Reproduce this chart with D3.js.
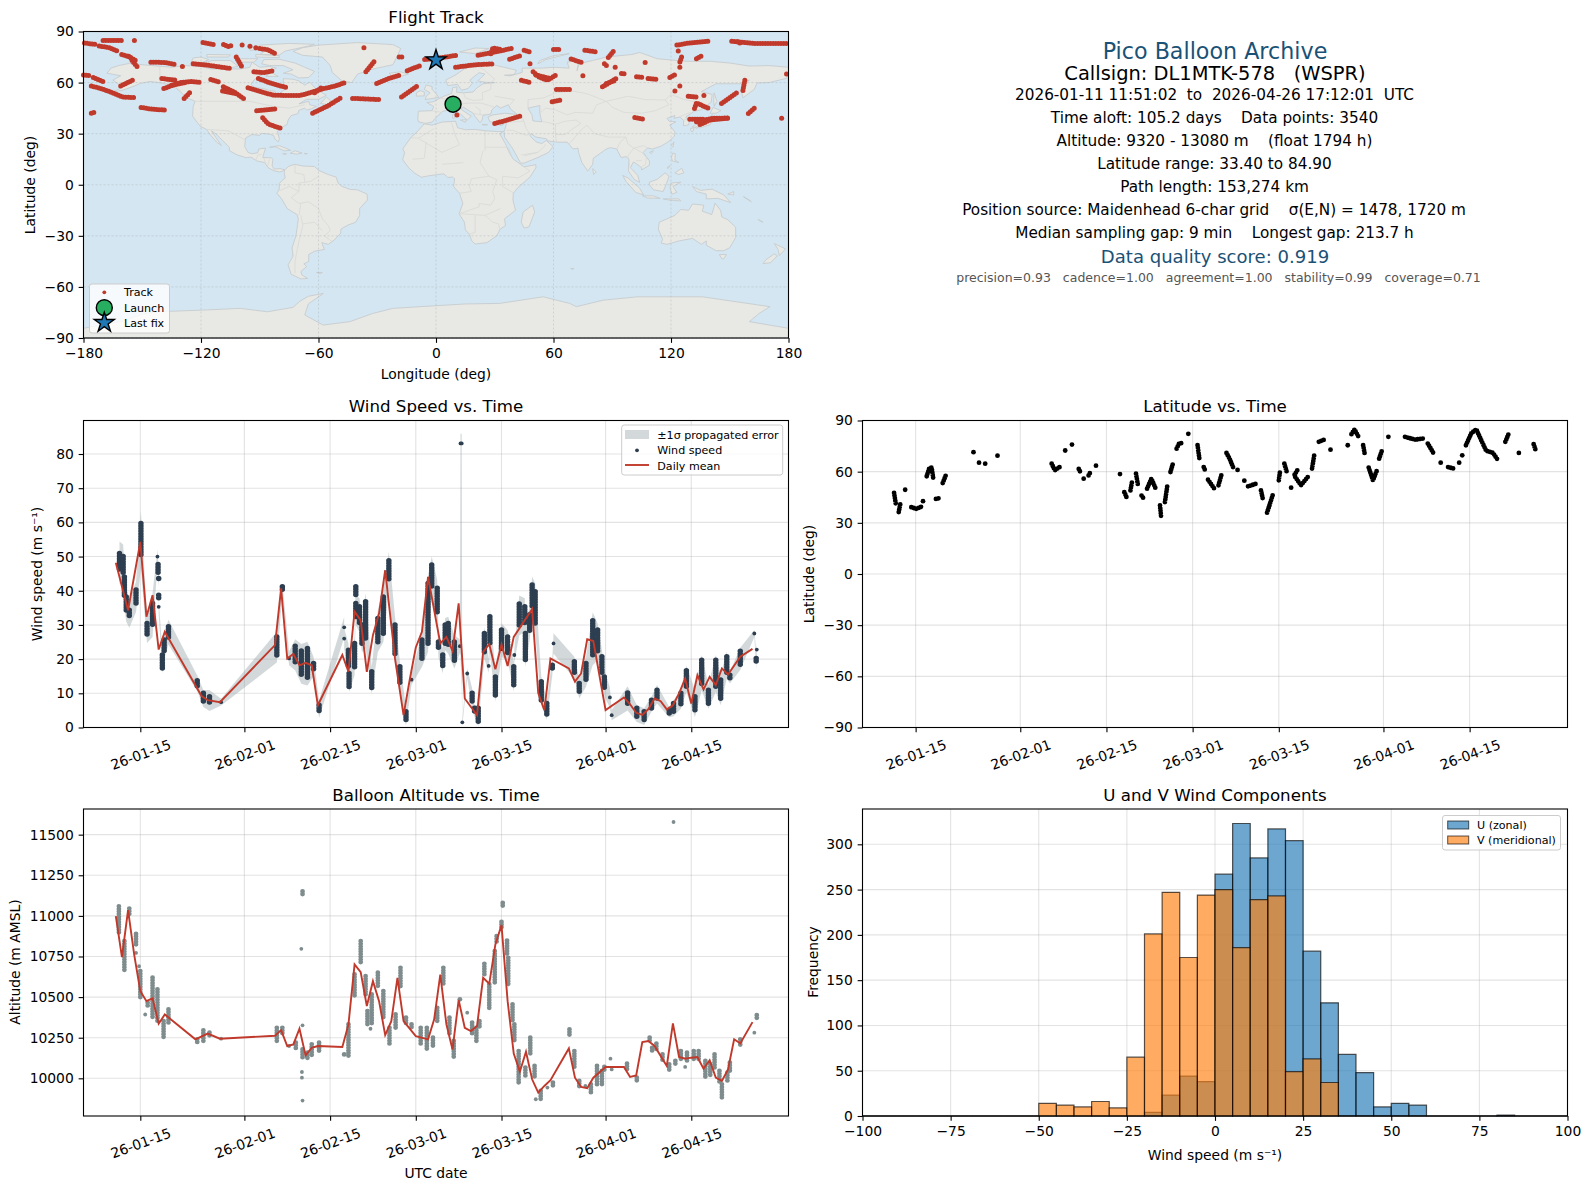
<!DOCTYPE html>
<html>
<head>
<meta charset="utf-8">
<script src="https://cdn.jsdelivr.net/npm/d3@7"></script>
<style>
  html, body { margin: 0; background: #fff; }
  svg { display: block; font-family: "DejaVu Sans", sans-serif; }
  .axis text { font-size: 13.89px; fill: #000; font-family: "DejaVu Sans", sans-serif; }
  .axis line, .axis path { stroke: #000; stroke-width: 1.1; }
  .grid line { stroke: #b0b0b0; stroke-opacity: 0.35; stroke-width: 1.1; }
  .title { font-size: 16.67px; text-anchor: middle; }
  .label { font-size: 13.89px; text-anchor: middle; }
  .legend text { font-size: 11.1px; dominant-baseline: central; }
</style>
</head>
<body>
<svg width="1590" height="1189"></svg>
<script>
// tick labels
const lonTicks = [-180, -120, -60, 0, 60, 120, 180];
const latTicks = [-90, -60, -30, 0, 30, 60, 90];
const timeTicks = ["2026-01-15", "2026-02-01", "2026-02-15", "2026-03-01", "2026-03-15", "2026-04-01", "2026-04-15"];
const windTicks = [0, 10, 20, 30, 40, 50, 60, 70, 80];
const altTicks = [10000, 10250, 10500, 10750, 11000, 11250, 11500];
const histXTicks = [-100, -75, -50, -25, 0, 25, 50, 75, 100];
const histYTicks = [0, 50, 100, 150, 200, 250, 300];

// all time values are day of 2026, Jan 1 = 1
const timeRange = [5.72, 120.88];
const latTimeRange = [6.37, 120.9];

const launch = [8.7, 47.3];
const lastFix = [0, 73.2];

// track fixes, [lon, lat], one list per visible run
const trackRuns = [
  [[-179.5, 83.2], [-174, 82.5]],
  [[-172, 81.5], [-167, 80.5], [-162, 78.2]],
  [[-160.5, 76.5], [-156, 75], [-155, 72.5], [-152, 68.5]],
  [[-157, 75.5], [-153.5, 73]],
  [[-170, 84.7], [-160, 84.7]],
  [[-154, 84.7]],
  [[-180, 64.4], [-177, 64.2]],
  [[-175, 63], [-170, 60.5]],
  [[-176, 58], [-171, 56.5], [-164, 53.5], [-160, 51.5], [-153.6, 51.2]],
  [[-176, 42], [-173.5, 43]],
  [[-161, 58], [-155, 61.4]],
  [[-150.6, 45.4], [-145, 44.4], [-137.5, 43.8]],
  [[-145.6, 72], [-138, 71.8], [-133, 70.5]],
  [[-129.5, 69.5]],
  [[-140, 62.4], [-133, 61.4]],
  [[-139, 56.5], [-130.7, 60], [-125, 60.6], [-120.5, 60.2]],
  [[-135, 58.5], [-128, 60]],
  [[-128.6, 50.7], [-125, 55]],
  [[-124, 71], [-115, 70], [-105, 68.3]],
  [[-119, 83.5], [-113.7, 82.4]],
  [[-108.5, 82.4], [-106, 81.2], [-104, 82]],
  [[-99, 82]], [[-95, 81.4]], [[-92, 80.4]],
  [[-90, 80], [-86, 79.3], [-82, 77]],
  [[-102, 75], [-99, 69]],
  [[-93, 66.3], [-88, 65.8], [-83, 67]],
  [[-90.7, 62.4], [-84, 59.5], [-76, 57]],
  [[-115, 61.8], [-110, 60]],
  [[-108.6, 57.5], [-103, 54.5], [-97.5, 50]],
  [[-109, 55], [-102, 53.5]],
  [[-96, 57], [-89, 54.5], [-83, 52.6], [-76, 52.4], [-69.5, 52.4], [-63, 54.5], [-57.5, 56.5], [-52, 57.8], [-46.5, 60]],
  [[-62, 54], [-58, 57.5]],
  [[-91.6, 43.4], [-82, 44.6]],
  [[-88.5, 39.3], [-85.6, 35.6], [-79, 33]],
  [[-63, 42], [-55, 46.5], [-48.2, 51.3]],
  [[-42.6, 50.7], [-36, 50.4], [-29, 50]],
  [[-35.8, 66.3], [-31.2, 73]],
  [[-36.8, 80.4]],
  [[-30.3, 59.5], [-24, 62.5], [-18.4, 64.4]],
  [[-14.7, 67], [-8, 70]],
  [[-18.8, 75], [-16.7, 75]],
  [[-17.6, 51.6], [-9.6, 58]],
  [[-5.8, 73.6], [2, 74.5], [10.4, 76]],
  [[21.5, 76], [30, 78], [38.5, 80]],
  [[28, 77], [29, 80.3], [33, 79.5]],
  [[10, 69], [20, 70.5], [29, 71]],
  [[37.6, 73.7], [43.6, 76]],
  [[45, 79], [48, 78]],
  [[48, 71]],
  [[60, 79.4], [63, 79.4]],
  [[76, 79], [82, 78]],
  [[69, 73.8], [74.6, 71.8]],
  [[88, 74.7], [91, 79]],
  [[86, 71], [87.4, 69.6]],
  [[91.5, 69]],
  [[106.8, 71.8]],
  [[123, 82], [128, 83], [139, 84.3]],
  [[123.7, 78.6]],
  [[125.4, 75], [124.5, 72]], [[124.5, 69]],
  [[133, 74], [136, 76]],
  [[151, 84.3], [162, 83], [180, 83]],
  [[154, 84], [156, 82.6]],
  [[119.4, 63], [122.8, 65]],
  [[122, 55]], [[124.5, 58]],
  [[49.6, 66.3], [53, 63], [57, 61.4], [62, 65]],
  [[51, 64.5], [58, 62.5]],
  [[43.6, 61.4], [48, 60]],
  [[61.5, 56], [68.7, 56]],
  [[59.3, 48.7], [63.2, 49.7]],
  [[30, 36], [37, 38.2], [43.6, 40.5]],
  [[10.7, 41]],
  [[75, 64]],
  [[85, 57.5], [92, 62.4]],
  [[87, 59.5], [91, 61]],
  [[94.7, 65.3], [97.3, 65]],
  [[102.4, 63.4], [105.5, 63]],
  [[108.3, 62.4], [113, 61.8]],
  [[101.5, 39.5], [106.6, 38.3]],
  [[128.8, 52], [134, 51.3]],
  [[136.8, 52.4]],
  [[132, 44.8], [133, 48], [139, 45]],
  [[129.6, 38.5], [136.5, 38.5]],
  [[134.8, 35.4], [140, 38], [149, 39]],
  [[133, 37], [141, 39], [150, 39.2]],
  [[145.8, 47.7], [153.5, 54]],
  [[157.7, 61.4], [156.6, 54.6]],
  [[159.5, 41.9], [163, 45.4]],
  [[176.5, 39]],
  [[179, 65]]
];

// simplified coastlines, [lon, lat]
const landPolygons = [
  // North America
  [[-168,65.5],[-166,68.5],[-162,70],[-156.5,71.3],[-150,70.5],[-141,69.6],[-135,69],[-128,70],[-120,69.5],[-115,68],[-108,68],[-100,68],[-95,69],[-94,72],[-90,69],[-85,69.5],[-81.5,68.5],[-86,66],[-90,64],[-93,61.5],[-94.5,59],[-92.5,57],[-88,56.5],[-85,55.3],[-82.3,55],[-82,52.5],[-79.5,51.3],[-79,54.5],[-76.5,56.5],[-78,58.7],[-78,62.3],[-73,62],[-70,61],[-67,58.5],[-64.5,60.3],[-61.5,56.5],[-56,52.5],[-60,50.2],[-66,50.2],[-70,47.5],[-65,49],[-64.5,47],[-61,46],[-63.5,44.7],[-66,43.8],[-67,45],[-70,43.7],[-70.5,41.7],[-74,40.6],[-75.5,38],[-76,35.5],[-78.5,33.8],[-81,31.5],[-80,27],[-80.5,25.2],[-82,26.5],[-83,29],[-85,29.7],[-89,30.2],[-90,29],[-94,29.5],[-97.2,27.5],[-97.7,22.5],[-96,19],[-94,18.2],[-91,18.8],[-90.5,21],[-87,21.5],[-88,18],[-88.5,16],[-84,15.8],[-83.3,14.9],[-83.7,11],[-82.5,9.2],[-79.5,9.5],[-77.3,8.7],[-78.3,8],[-80,7.5],[-83,8.3],[-85.7,10],[-87.5,13],[-91.5,14],[-94.5,16.2],[-97,15.9],[-101.5,17.5],[-105.5,20],[-105.5,22],[-109,26],[-112.5,30],[-114.7,31.7],[-112,27],[-109.5,23],[-112,25],[-115,29],[-117.2,32.5],[-120.5,34.5],[-122.5,37.5],[-124.3,40.3],[-124,46],[-123,49],[-127,51],[-130.5,54.5],[-134,58],[-140,59.7],[-146,60.7],[-151,59.5],[-154,58],[-160,55.5],[-165,54.5],[-158,58.5],[-162,59],[-165,61.5],[-161,64],[-168,65.5]],
  // Arctic Canada
  [[-80,73.7],[-72,71.5],[-67,69],[-62,66.5],[-65,63],[-70,62.7],[-74,65],[-78,65.5],[-73,67.5],[-78,70],[-85,70],[-89,71],[-88,73.5]],
  [[-117,70],[-105,68.7],[-101,69.5],[-105,73],[-114,73],[-119,71.5]],
  [[-125,72],[-120,71.5],[-116,73.5],[-120,75],[-124,74.5]],
  [[-90,76.5],[-80,76.2],[-77,78.5],[-65,81.5],[-62,82.5],[-75,83],[-90,82],[-92,80],[-88,78]],
  [[-92,75],[-80,74.7],[-80,75.8],[-92,76.5]],
  [[-117,75],[-106,75],[-105,76.3],[-117,76.5]],
  [[-95,79],[-88,79],[-90,81],[-95,80.5]],
  [[-100,72],[-93,72],[-91,74],[-100,74]],
  [[-87,63.7],[-80.5,63.6],[-84,65.9]],
  [[-59,47.7],[-53,46.7],[-52.8,48.5],[-56,51.5]],
  // Caribbean
  [[-85,22],[-80,23],[-74.2,20.2],[-77.5,19.9],[-82,22.3]],
  [[-74.4,18.5],[-72,20],[-68.4,18.6],[-71,18]],
  [[-78.3,18.3],[-76.3,18.2],[-77,17.8]],
  [[-67.2,18.4],[-65.7,18.3],[-66.5,18]],
  // Greenland, Iceland
  [[-73,78.3],[-68,80.5],[-60,82],[-40,83.5],[-22,82.3],[-18,80],[-20,75],[-22,70.5],[-32,68],[-40,65],[-43,60],[-48,61],[-53,66],[-54,70],[-58,75],[-68,76]],
  [[-24,65.5],[-18,66.3],[-14,65],[-19,63.4],[-22.5,64]],
  // Arctic Eurasia
  [[12,78],[20,80.3],[27,80],[20,77]],
  [[52,71],[56,73.5],[68,77],[60,75.8],[53,73]],
  // South America
  [[-77.3,8.7],[-75,11],[-72,12],[-68,11],[-62,10.7],[-60,8.5],[-55,6],[-51,4.5],[-50,1],[-48,-1],[-44,-2.7],[-40,-3],[-35.2,-5.5],[-35,-9],[-39,-14],[-39,-18],[-41,-22],[-45,-23.7],[-48.5,-26],[-48.7,-28.5],[-52,-32.5],[-55,-35],[-58.3,-34],[-57,-38],[-62,-39],[-65,-41],[-65,-45],[-67.5,-46.5],[-66,-48],[-69,-51],[-68.5,-53],[-65.5,-55],[-69,-55.3],[-74,-52.5],[-75.5,-47],[-73,-42],[-73.5,-37],[-71.5,-30],[-70.3,-20],[-71,-17.5],[-76,-14],[-79,-8],[-81.3,-5],[-80,-2.5],[-80,0.7],[-78.5,2.5],[-77,4],[-77.5,7]],
  [[-61,-51.5],[-58,-51.5],[-59,-52.2]],
  // Africa
  [[-6,35.8],[-2,35],[3,36.8],[10,37.3],[11,33.5],[15,32.3],[20,32.5],[25,31.7],[32,31.2],[34.5,31.3],[32.5,30],[35.5,24],[37.5,18.7],[39.5,15],[43.2,12],[45,10.5],[51,11.8],[51,10],[48,4.5],[42,-1.5],[39.5,-5],[39.3,-9],[40.6,-15],[35,-20],[35.5,-24],[32.8,-26],[31,-30],[26,-34],[20,-34.8],[18.3,-33],[17,-29],[15,-26.5],[14.5,-22],[11.8,-17],[13.7,-11],[12,-5],[9,-1],[9.5,3.5],[8.5,4.5],[6,4.3],[4,6.4],[1,6],[-4,5.2],[-7.5,4.4],[-11,6.9],[-14,10],[-17,14.7],[-16,19],[-17,21],[-13,27.5],[-9.7,31]],
  [[49.3,-12],[50.4,-16],[47.5,-24.7],[45,-25.5],[43.5,-22],[44.5,-16]],
  // Eurasia
  [[-9,37],[-9.3,39],[-9,43.2],[-2,43.5],[-1.2,46],[-4.7,48.3],[-1.5,48.7],[1.5,50.5],[4,52],[8,53.7],[8.5,57],[10.7,57.5],[10.5,54.3],[14,54],[19,54.5],[21,57],[24,59.3],[30,60],[25,60.2],[21.3,61],[25,65],[22,65.8],[17.3,61.5],[18.5,59.5],[16.4,56.5],[13,55.5],[11,59],[6,58.2],[5,61.5],[10,64.5],[15,68.5],[20,70],[26,71],[31,70],[41,67.3],[40,64.7],[35,64.3],[38,64],[44,66],[44,68.5],[54,68.5],[60,69],[68,68.5],[67,72],[73,73],[72,67],[73,71],[80,73],[87,75],[100,76.5],[104,77.7],[113,74],[128,72.5],[140,72.5],[150,71.5],[160,69.7],[170,70],[180,69],[180,65],[179,62.5],[170,60],[164,59.8],[162.5,56],[156.7,51],[155.7,56.5],[160,61.5],[155,59.3],[143,59.3],[135.5,54.7],[141,53],[140.5,48.5],[135.5,44],[132,43.2],[127.5,39.8],[129.3,37],[129,35.2],[126.3,34.6],[126.5,37.7],[124.5,39.8],[121.5,39],[122,40.7],[118,39],[119,37.3],[122.5,37],[119.3,35],[122,31],[121.7,28.5],[119,25.5],[115,22.7],[110.5,21],[108,21.6],[105.8,19],[109,14],[109,11.5],[105,8.7],[105,10],[102.5,12.2],[100.8,13.4],[99.3,10],[103,5.5],[104,1.4],[101.3,3],[98.3,8],[98.5,15],[97,16.5],[94.5,16],[92.3,21],[89,21.8],[87,21],[80.3,15.5],[80,12],[77.5,8],[74.5,13],[72.8,19],[72.5,21.5],[70,21],[67,25],[61.5,25],[57,25.8],[56.4,27],[51,28],[48.5,30],[48,28.7],[50.3,26],[51.5,25],[54,24.2],[56.3,26],[59.7,22.5],[57.5,19],[52,16],[45,12.7],[43.2,12.7],[39,21.5],[35,28],[34.8,31.3],[35.8,35],[36,36.8],[30.5,36.5],[27.5,37],[26.5,39.8],[29,41],[35,42],[41.5,41.3],[38,44.5],[37,47],[33,45],[31,46.5],[28.5,44],[28,41.5],[24,40.7],[23.5,38],[22.5,36.5],[19.7,40.5],[19,42],[14,45.5],[12.5,44.5],[18,40.3],[16,38],[12.5,41.5],[9,44.3],[3.5,43.2],[0,39.5],[-2,36.8],[-5.5,36]],
  // Europe islands
  [[-5.5,50],[1.5,51.3],[0,53.5],[-2,56],[-2,57.7],[-5,58.6],[-6,56],[-3,54],[-5,52]],
  [[-10,52],[-6,52.2],[-6,54.5],[-8,55.3],[-10,54]],
  [[12.5,38],[15.5,38.2],[15,36.7]],
  [[8.3,41],[9.7,41],[9.5,39.2],[8.5,39]],
  [[8.7,42.5],[9.5,43],[9.3,41.5]],
  [[23.5,35.5],[26.3,35.2],[24,35]],
  [[32.5,35],[34.5,35.5],[33.5,34.7]],
  // Japan, east Asia
  [[130.8,33.9],[135,33.5],[140,35.3],[141.8,39.5],[141,41.3],[139.8,39.5],[136.5,36.8],[132,35]],
  [[140,42],[141.5,45.4],[145.5,43.5],[143,42]],
  [[130,33],[131.8,33.5],[131.2,31.3],[130.2,31.4]],
  [[132.5,34],[134.5,34.2],[133,33]],
  [[142,54],[143.5,49],[142,46],[141.8,50]],
  [[120.2,23],[121.5,25.2],[121,22]],
  [[109,19],[111,20],[110,18.3]],
  [[80,9.5],[81.8,7.5],[80.5,6]],
  // Maritime southeast Asia
  [[95.3,5.5],[98,4],[104,-2],[106,-6],[102,-4.5],[97,2]],
  [[105.5,-6.5],[111,-6.5],[114.5,-8],[108,-7.8]],
  [[109,1.5],[113,3.2],[117,7],[119,5],[117.8,1],[116,-4],[111,-3],[109,0]],
  [[120,1],[125,1.5],[121,-1],[123,-4.5],[120.5,-5.5],[119.5,-2]],
  [[120.3,16],[120.8,18.5],[122.2,18.3],[122,14.5],[124,13],[120.7,14]],
  [[122,7],[125.5,9.7],[126.5,7],[124,6]],
  [[118,10],[119.5,11.3],[118.5,9.5]],
  [[116,-8.3],[119,-8.3],[124,-8.3],[125,-9.5],[119,-9]],
  [[131,-1],[135,-3.3],[141,-2.6],[147,-6],[150.5,-10.5],[144,-8],[138,-8.3],[138,-5.5],[133,-4]],
  [[149,-5.5],[152,-4],[152,-6]],
  [[157,-7],[161,-10],[160,-9]],
  [[165,-21],[167,-22],[164.5,-20.3]],
  // Australia, New Zealand
  [[114,-22],[113.5,-26],[115.7,-32],[115,-34.3],[118,-35],[124,-33],[131,-31.5],[135.5,-35],[138,-33],[138,-35.5],[143,-38.7],[147,-38.7],[150,-37],[153,-31],[153,-25],[149,-20.5],[146,-19],[145.3,-15],[142.5,-10.8],[141.5,-15],[140.8,-17.5],[136,-15.5],[136.8,-12],[131,-11.3],[129,-15],[125,-14.5],[122,-18]],
  [[144.7,-41],[148.3,-41],[147,-43.5],[146,-43.5]],
  [[172.7,-34.5],[178.5,-37.7],[175.3,-41.6],[174.7,-38]],
  [[172.7,-40.6],[174.3,-41.7],[170.8,-45.8],[167,-46.3],[168.5,-44]],
  [[68.8,-49.2],[70.5,-49.2],[69.5,-49.7]],
  // Antarctica
  [[-180,-90],[-180,-84.3],[-160,-80],[-150,-76],[-142.6,-74.6],[-118.8,-73.6],[-100,-72.6],[-86,-74.6],[-73,-72],[-69.6,-68.5],[-65.2,-65.5],[-57.5,-63.8],[-65.2,-70],[-67,-76.5],[-57.6,-82.4],[-44,-80.4],[-32.4,-75.6],[-22,-72.6],[-8,-71.6],[15,-70],[32.5,-69.7],[54.7,-65.8],[68.3,-69.7],[71.7,-71.6],[85.3,-67.8],[103,-65.8],[136,-65.8],[170.5,-71.6],[165,-75.6],[160,-80.4],[180,-84.3],[180,-90]]
];
const inlandWater = [
  [[47,45],[53,46.5],[53,42],[54,37],[49.5,37.5],[49,41]]
];
const borderLines = [
  [[-123,49],[-95,49],[-83,46],[-75,45],[-67,47]],
  [[-117,32.5],[-106,31.7],[-97,26]],
  [[-141,69.6],[-141,60],[-135,59],[-130,55]],
  [[-92,14.5],[-91,17.5],[-89,17.8]],
  [[-88,15.8],[-87,13]], [[-85,15],[-86,11]], [[-83,8.5],[-83,10]],
  [[-72,11.5],[-72,7],[-67.5,6],[-67,1.5]],
  [[-60,5],[-64,2],[-70,1],[-70,-4],[-74,-7.5],[-70,-11],[-65,-10],[-60,-14],[-58,-20],[-55,-24],[-54,-27],[-57,-30],[-53,-33.5]],
  [[-70,-18],[-69,-11]],
  [[-69,-18],[-68,-24],[-70,-33],[-72,-45],[-72,-52]],
  [[-68,-23],[-62,-22],[-58,-27]],
  [[-80,-3.5],[-75,-1],[-70,-4]],
  [[-13,27.5],[-8.7,27.5],[-1,33]],
  [[-8.7,27],[3,19],[12,23.5],[9.5,30],[8,36.5]],
  [[25,31.5],[25,20]],
  [[24,20],[22.5,13],[27,5]],
  [[3,12],[14,13]],
  [[25,22],[36.8,22]],
  [[-12,15],[-6,15.5],[-5,25]],
  [[12,-5],[18,-4],[17,-1],[18,3.5],[27,5],[31,3],[29,-4],[30,-8],[28,-12],[22,-11],[22,-13],[12,-17]],
  [[12,-17],[25,-18],[33,-14]],
  [[20,-18],[20,-28],[17,-29]],
  [[25,-18],[29,-22],[32,-23],[32.5,-26]],
  [[34,-1],[39.5,-4.7]],
  [[34,5],[42,4],[48,8],[43,12]],
  [[36.8,22],[38.5,18]],
  [[34,-1],[34,5]],
  [[-1.8,43.4],[3,42.5]],
  [[2.5,51],[8,49],[7,47.5],[13,47.5],[17,48],[23,48],[30,45.5]],
  [[14,54],[15,51],[19,49.5],[24,50],[23.5,54],[28,56],[28,60]],
  [[20,70],[24,68],[30,62],[28,60]],
  [[18.5,42],[23,41],[26,41.5]],
  [[20,46],[22.5,44],[22.5,41]],
  [[30,52],[40,50],[38,47]],
  [[36,32],[39,32],[46,29],[48,30]],
  [[36,36.8],[42,37],[44.8,37.5],[46,33],[48,30]],
  [[44.8,37.5],[44,39.7]],
  [[45,17],[52,19],[55,22],[56,24]],
  [[43.5,17.5],[52,19]],
  [[61.5,25],[61,30],[61,35.5],[54,37.3]],
  [[61,35.5],[66,37.3],[71.5,38],[74,36],[70,33],[66,29.5],[61,29.5]],
  [[68,24],[71,28],[74,32],[77,35]],
  [[77,35],[81,30],[88,28],[97,28]],
  [[92.3,21],[94,25],[97,28]],
  [[97,28],[98,24],[101,21.5],[100,20],[98,17],[99,11]],
  [[101,21.5],[105,19],[107.5,16],[107,12],[105,10.5]],
  [[101,21.5],[106,23],[108,21.6]],
  [[102,14],[105,14.3]],
  [[47,45],[47,50],[55,51],[61,54],[70,55],[77,53.5],[87,49]],
  [[53,42],[56,45],[61,44],[67,41],[71,42.5],[80,42],[82,47],[87,49]],
  [[87,49],[98,52],[107,50],[117,49.8],[119,47],[112,43.5],[105,42],[96,42.5],[90,45.5],[87,49]],
  [[117,49.8],[120,53],[127,50],[135,48],[131,43]],
  [[124.5,40],[130,42.5]],
  [[126.5,38],[128.5,38.5]]
];

// daily means, [day, value]
const windMean = [[11,48.2],[13,34.3],[15,54.3],[16,32.4],[17,38.7],[18,22.8],[19,28],[25,9.2],[26,8],[28,7.4],[37,24.1],[38,40.7],[39,20.2],[40,21.5],[41,18.2],[42,18.9],[43,18.2],[44,6.5],[48,21.2],[49,16.3],[50,33.9],[51,31.4],[52,16.3],[53,27],[54,33.4],[55,46],[56.6,20.2],[58,3.6],[59,13.9],[60,23.4],[61,28],[62,44.1],[64,24.6],[65,26.5],[66,22.4],[67,36.3],[68,8.5],[70,3.6],[71,22.1],[72,24.4],[73,17],[74,24.3],[75,18],[76,26.5],[79,34.6],[80,10.1],[81,5.1],[82,20.2],[85,17.3],[86,13.4],[87,15.8],[88,25.8],[89,25.3],[91,5.1],[94,8.8],[95,6.8],[96,4.3],[97,3.7],[98,5.4],[99,8.5],[100,7.7],[101,5.3],[102,6.5],[103,10],[104,14.3],[105,7],[106,15.3],[107,11.1],[108,14.8],[109,12.4],[110,17.3],[111,15.5],[113,20.7],[115,23]];

// columns of wind fixes, [day, highest, lowest, error, optional band floor]
const windColumns = [
  [11.6,50.9,45.6,3.5],[12.2,50,45,3.5],[12.4,44,38.2,3],[12.7,38.2,33.9,3],[13.2,34.3,32.2,3],[14.3,40.2,36.3,2.5],[15.1,59.7,50,3.6],[16.1,30.4,26.7,2],[17,36.3,29.5,3],
  [17.8,50,50,2],[17.9,47.7,45.4,2],[18,43.6,43.1,2],[18,38.7,37.3,2],[18,35.3,35.3,2],[18.6,21.2,17.3,1.5],[18.9,25.6,22.1,2],[19.6,29.5,26.3,2],
  [24.3,13.7,12.1,1.5],[25.3,10,7,1],[26.3,9,6.8,2],[28.2,7.4,7.4,1],[37.3,26.5,20.5,1.5],[38.2,41.2,40,1],[39.3,20.2,20.2,2],[40.3,23.8,18.7,2],[41.3,22.4,14.8,2],[42.3,23.1,14.3,2],[43.3,18.7,17,2],[44.2,6.5,4.3,1.5],
  [48.3,29.3,29.3,3],[48.3,26,26,3],[49,22.6,17.8,2],[49.1,15.8,11.9,1.5],[50,24.6,17.3,2],[50.2,41.2,38.2,2.5],[50.2,36.3,32.4,2.5],[50.8,35.3,30.4,2.5],[51.2,30,24,2],[51.8,36.8,25.6,2.5],[52.8,16.3,11.4,1.5],[53.8,31.9,24.6,2.5],[54.7,38.2,27.5,2.5],[55.6,48.8,43.1,2.5],[56.6,30,21.2,2.5],[57.4,17.8,12.9,1.5],[58.4,4.6,1.7,1.2],[59.3,14,14,1.5],[61,25.6,19.7,2],[62,42.1,24.6,2.5],[62.6,47.5,41.2,2.5],
  [63.5,40.7,33.4,2.5],[63.7,25,23,2.5],[64.4,21.2,17.8,2],[64.8,30,24.6,2],[65.3,30.4,23.6,2],[66.3,25,19.2,2],[67.2,23.8,23.8,2],[67.3,83.1,83.1,2.8,21],[67.5,83.1,83.1,2.8,12],[67.6,1.5,1.5,1],[68.4,15.8,15.8,1.5],[69.2,10,7,1.5],[69.6,5.6,4.1,1],[70.2,5.6,1.4,1],[71.2,27.5,22.1,2],[71.9,18,18,2],[72.1,32.4,24.6,2.5],[73,14.8,9,1.5],[74,28.5,22.6,2],[75,26.5,21.7,2],[76,17.8,11.9,1.5],[76.1,21.2,21.2,2],[76.9,36.1,29.5,2.5],[77.8,35.3,30.4,2.5],[77.9,27.5,19.7,2],[78.6,33,28,2.5],[79,41.7,35.3,2.5],[79.5,39.7,30.4,2.5],[80.5,13.4,8,1.5],[81.4,7,3.3,1],[82.3,18.2,17.3,2],[82.5,24.6,24.6,3],[85.9,19.2,15.8,1.5],[86.7,12.9,10,1.5],[87.8,18.7,13.9,2],[88.9,31.2,20.7,2.5],[89.7,28.5,21.7,2],[90.4,20.7,15.8,2],[90.8,14.8,11.1,2],[91.7,8.8,8.8,3],[92,3.6,3.6,1.5],[94.6,10.1,7,2],[96.1,5.6,2.6,1],[97.3,4.6,1.7,1],[98.5,8,5.6,1],[99.4,10.9,8.5,1.5],[101.4,5,4,1],[102.1,7,4.3,1],[103.3,10,6.5,1],[104.2,16.6,11.9,1.5],[105.6,9,5,2],[106.7,19.7,12.4,1.5],[107.8,10.9,7,1.5],[109,19.7,11.9,1.5],[109.8,13.9,8,1.5],[110.8,20.7,15.8,1.5],[111.3,15.3,13.9,1],[113,22.3,17.8,1],[115.3,27.5,27.5,1],[115.6,20.2,19.2,2],[115.7,22.8,22.8,2]
];

// latitude fixes, [day, lat], one list per visible run
const latRuns = [
  [[11.5,47.5],[11.8,40.6]],[[12.5,40.8],[12.2,35.3]],[[13.3,49.4]],[[14.3,39.2],[15.1,38.2],[16,39.6]],[[16.2,42.7]],[[16.8,57.3],[17.2,61.8],[17.6,62.4],[17.9,55.3]],[[18.3,44],[18.9,44.5]],[[19.4,53.3],[19.9,57.8]],
  [[24.4,71.4]],[[25.3,65.3]],[[26.3,64.7]],[[28.3,69.4]],
  [[37.1,64.7],[37.6,60.8],[38.4,62.7]],[[39.3,72.4]],[[40.4,75.9]],[[41.5,61.6],[41.7,60.2]],[[42.3,55.9]],[[43.1,57.8],[43.4,59.8]],[[44.3,63.5]],
  [[48.2,58.6]],[[48.9,48],[49.3,44.7]],[[49.9,49],[50.2,54.9]],[[50.8,58.8],[51.1,52.5]],[[51.7,46],[52,44.5]],[[52.6,50],[53.3,55.9],[54,50]],[[54.7,40.2],[54.9,32.9]],[[55.5,42.2],[55.9,52]],[[56.4,59.8],[56.8,64.7]],[[57.4,73.5],[57.8,76.5],[58.4,76.9]],[[59.3,82.2]],
  [[60.8,75.5],[61.1,67.6]],[[61.8,62.7],[62.1,60.2]],[[62.5,55.3],[63.6,49.6]],[[64.2,52],[64.7,58.4]],[[65.5,71],[66,67.6],[66.6,62.4]],[[67.3,61]],[[68.4,54.7]],[[69,51.4],[70.3,52.9]],[[71.1,49],[71.4,44.1]],[[73,46.1],[72,34.9]],[[74,54.9],[74.2,60.2]],[[74.9,64.7],[75.3,59.8]],[[76,50.6]],[[77,60.8],[76.5,57.8],[77.6,52],[78.8,57.3]],[[79.4,61.8],[79.8,70.6]],[[80.5,77.5],[81.4,78.8]],[[82.4,72.9]],
  [[85.2,75.5]],[[85.8,82],[86.3,84.7],[86.9,80.8]],[[87.7,75.5],[88,69.6]],[[88.6,62.4],[89.3,54.9],[89.9,60.4]],[[90.3,67.6],[90.8,72.9]],[[91.8,80.4]],
  [[94.5,80.4],[96.1,78.8],[97.4,79.4]],[[98.2,76.5],[99.1,71]],[[100.3,65.3]],[[101.5,62.7],[102.4,61.8]],[[103.3,65.3]],[[103.8,69.6]],[[104.4,75.5],[105.3,82.7],[106.1,84.7],[107,77.5],[107.7,72.2],[108.8,71],[109.6,66.7]],[[110.8,77.5],[111.4,82.7]],[[113,71]],[[115.4,76.1],[115.7,72.9]]
];

const altMean = [[11,10998],[12,10746],[13,11035],[14,10762],[15,10537],[16,10475],[17,10492],[18,10336],[19,10393],[24,10240],[26,10275],[28,10244],[37,10262],[38,10297],[39,10199],[40,10209],[41,10305],[42,10141],[43,10188],[44,10199],[48,10193],[49,10332],[50,10701],[51,10654],[52,10445],[53,10598],[54,10475],[55,10266],[56,10352],[57,10619],[58,10352],[60,10260],[62,10240],[63,10363],[64,10639],[65,10332],[66,10178],[67,10482],[68,10311],[69,10291],[70,10322],[71,10619],[72,10582],[73,10824],[74,10943],[75,10475],[76,10152],[77,10041],[78,10164],[79,9994],[80,9912],[81,9953],[82,9988],[85,10184],[86,10004],[87,9947],[88,9939],[89,10004],[91,10070],[94,10070],[95,10008],[96,10018],[97,10223],[98,10230],[99,10199],[100,10137],[101,10076],[102,10338],[103,10131],[104,10121],[105,10127],[106,10131],[107,10059],[108,10111],[109,10004],[110,9984],[111,10055],[112,10240],[113,10215],[115,10346]];

// columns of altitude fixes, [day, highest, lowest]
const altColumns = [
  [11.5,11059,10895],[12.4,10844,10660],[13.2,11045,11012],[14.3,10889,10824],[14.3,10772,10772],[14.8,10690,10690],[15,10660,10496],[15.8,10393,10393],[16.2,10465,10434],[17,10619,10373],[17.8,10547,10352],[18.8,10352,10240],[19.6,10424,10332],
  [24.3,10240,10219],[25.3,10295,10230],[26.3,10281,10260],[28.2,10244,10244],[37.3,10311,10219],[38.2,10311,10270],[39.3,10199,10199],[40.4,10219,10178],[41.5,10326,10326],[41.5,10178,10117],[41.5,11150,11130],[41.3,10797,10797],[41.4,10039,10039],[41.4,10004,10004],[41.5,9863,9863],[42.3,10158,10111],[43,10209,10137],[44.2,10219,10168],
  [48.3,10147,10137],[49,10332,10127],[50,10639,10496],[51,10844,10701],[51.8,10629,10516],[52.1,10414,10332],[52.8,10516,10332],[52.6,10305,10305],[53.8,10650,10568],[54.7,10537,10373],[55.7,10311,10209],[56.7,10393,10301],[57.5,10680,10557],[58.4,10373,10332],[59.3,10332,10301],[60.8,10311,10199],[61.8,10311,10168],
  [62.8,10250,10199],[63.5,10434,10352],[64.5,10680,10578],[65.5,10373,10270],[66.2,10230,10127],[67.2,10486,10471],[68.4,10404,10404],[69.2,10342,10270],[69.9,10311,10230],[70.4,10352,10311],[71.2,10705,10639],[72,10578,10424],[72.9,10783,10588],[73.2,10875,10834],[74,10963,10926],[74.2,11080,11049],[74.9,10848,10762],[75.1,10742,10578],[75.8,10455,10352],[76.1,10332,10230],[76.8,10168,9973],[77.9,10066,10004],[78.7,10250,10147],[79.4,10076,10004],[79.6,9871,9871],[80.4,9922,9861],[81.5,9943,9943],[82.4,9973,9953],
  [85.1,10301,10260],[85.9,10168,10066],[86.7,9984,9943],[87.7,9953,9953],[88.6,9963,9902],[89.6,10076,9963],[90.4,10045,9953],[90.8,10070,10045],[91.8,10121,10121],[92,10055,10055],[94.5,10090,10045],[96.1,10004,9984],[98.2,10250,10219],[98.6,10188,10168],[99.3,10213,10168],[100.3,10147,10107],[101.4,10086,10045],[102.1,11578,11578],[102.4,10107,10086],[103.3,10168,10117],[104,10070,10070],[104.3,10158,10107],[105.4,10168,10117],[106.2,10168,10107],[107.3,10107,10004],[108.1,10086,10014],[108.8,10147,10066],[109.6,10045,9973],[110,9963,9871],[110.9,10035,9984],[111.3,10096,10045],[113,10240,10199],[115.3,10281,10281],[115.7,10389,10357]
];

// histogram, bins of 5 m/s starting at -100
const histBins = d3.range(-100, 100, 5);
const uCounts = [0,0,0,0,0,0,0,0,0,0,0,0,0,0,0,0,4,23,44,38,267,323,285,317,304,182,125,68,48,10,14,12,0,0,0,0,1,0,0,0];
const vCounts = [0,0,0,0,0,0,0,0,0,0,14,12,10,16,9,65,201,247,175,244,250,186,239,243,49,63,37,0,0,0,0,0,0,0,0,0,0,0,0,0];

const summaryLines = [
  { text: "Pico Balloon Archive", x: 1215, y: 51, size: 22.22, fill: "#1a5276" },
  { text: "Callsign: DL1MTK-578   (WSPR)", x: 1215, y: 73, size: 19.44, fill: "#000" },
  { text: "2026-01-11 11:51:02  to  2026-04-26 17:12:01  UTC", x: 1214.5, y: 95, size: 15.28, fill: "#000" },
  { text: "Time aloft: 105.2 days    Data points: 3540", x: 1214.5, y: 118, size: 15.28, fill: "#000" },
  { text: "Altitude: 9320 - 13080 m    (float 1794 h)", x: 1214.5, y: 141, size: 15.28, fill: "#000" },
  { text: "Latitude range: 33.40 to 84.90", x: 1214.5, y: 164, size: 15.28, fill: "#000" },
  { text: "Path length: 153,274 km", x: 1214.5, y: 187, size: 15.28, fill: "#000" },
  { text: "Position source: Maidenhead 6-char grid    σ(E,N) = 1478, 1720 m", x: 1214, y: 210, size: 15.28, fill: "#000" },
  { text: "Median sampling gap: 9 min    Longest gap: 213.7 h", x: 1214.5, y: 233, size: 15.28, fill: "#000" },
  { text: "Data quality score: 0.919", x: 1215, y: 256.2, size: 18.06, fill: "#1a5276" },
  { text: "precision=0.93   cadence=1.00   agreement=1.00   stability=0.99   coverage=0.71", x: 1218.5, y: 277.2, size: 12.5, fill: "#555" }
];

const RED = "#c0392b";
const svg = d3.select("svg");
const dayToDate = d => new Date(Date.UTC(2026, 0, 1) + (d - 1) * 864e5);

const makePanel = function(left, top, width, height, xScale, yScale, xTicks, yTicks, xFormat, yFormat, title) {
  const g = svg.append("g").attr("transform", `translate(${left},${top})`);
  xScale.range([0, width]);
  yScale.range([height, 0]);

  const grid = g.append("g").attr("class", "grid");
  grid.selectAll("line.v").data(xTicks).join("line").attr("class", "v")
    .attr("x1", d => xScale(d)).attr("x2", d => xScale(d)).attr("y1", 0).attr("y2", height);
  grid.selectAll("line.h").data(yTicks).join("line").attr("class", "h")
    .attr("y1", d => yScale(d)).attr("y2", d => yScale(d)).attr("x1", 0).attr("x2", width);

  const marks = g.append("g");

  const axisX = g.append("g").attr("class", "axis").attr("transform", `translate(0,${height})`)
    .call(d3.axisBottom(xScale).tickValues(xTicks).tickFormat(xFormat).tickSize(4.86).tickPadding(4.86));
  const axisY = g.append("g").attr("class", "axis")
    .call(d3.axisLeft(yScale).tickValues(yTicks).tickFormat(yFormat).tickSize(4.86).tickPadding(4.86));
  axisX.select(".domain").remove();
  axisY.select(".domain").remove();

  g.append("rect").attr("width", width).attr("height", height)
    .attr("fill", "none").attr("stroke", "#000").attr("stroke-width", 1.1);

  g.append("text").attr("class", "title").attr("x", width / 2).attr("y", -8.3).text(title);
  return { g, marks, axisX, axisY, width, height };
};

const rotateDates = function(panel) {
  panel.axisX.selectAll("text")
    .attr("y", null).attr("dy", null)
    .attr("text-anchor", "middle")
    .attr("dominant-baseline", "central")
    .attr("transform", "translate(0,27) rotate(-20)");
};

// a column drawn as overlapping dots; a lone fix stays a single dot
const drawColumns = function(panel, rows, x, y, cls, color, width) {
  panel.marks.selectAll("line." + cls).data(rows).join("line").attr("class", cls)
    .attr("x1", d => x(dayToDate(d[0]))).attr("x2", d => x(dayToDate(d[0])))
    .attr("y1", d => y(d[1])).attr("y2", d => y(d[2]))
    .attr("stroke", color)
    .attr("stroke-width", d => d[1] === d[2] ? 3.8 : width)
    .attr("stroke-dasharray", d => d[1] === d[2] ? null : "0 2.6")
    .attr("stroke-linecap", "round");
};

const timeTickDates = timeTicks.map(d => new Date(d + "T00:00:00Z"));
const dateFormat = d3.utcFormat("%y-%m-%d");
const intFormat = d3.format("d");

const COL_LEFT = 83.5, COL_RIGHT = 862.5, PANEL_W = 705;

// flight track
{
  const x = d3.scaleLinear().domain([-180, 180]);
  const y = d3.scaleLinear().domain([-90, 90]);
  const panel = makePanel(COL_LEFT, 31.5, PANEL_W, 306.5, x, y, lonTicks, latTicks, intFormat, intFormat, "Flight Track");
  const line = d3.line().x(d => x(d[0])).y(d => y(d[1]));

  // map goes under the grid here, so grid is re-drawn dashed on top of it
  panel.marks.append("rect").attr("width", panel.width).attr("height", panel.height).attr("fill", "#d4e6f1");
  panel.marks.selectAll("path.land").data(landPolygons).join("path").attr("class", "land")
    .attr("d", d => line(d) + "Z").attr("fill", "#e8e8e4").attr("stroke", "#c4c9cb").attr("stroke-width", 0.8);
  panel.marks.selectAll("path.water").data(inlandWater).join("path").attr("class", "water")
    .attr("d", d => line(d) + "Z").attr("fill", "#d4e6f1").attr("stroke", "#c4c9cb").attr("stroke-width", 0.8);
  panel.marks.selectAll("path.border").data(borderLines).join("path").attr("class", "border")
    .attr("d", line).attr("fill", "none").attr("stroke", "#d6d8d6").attr("stroke-width", 0.7);

  lonTicks.forEach(d => panel.marks.append("line").attr("x1", x(d)).attr("x2", x(d)).attr("y1", 0).attr("y2", panel.height)
    .attr("stroke", "#a0a8ac").attr("stroke-opacity", 0.5).attr("stroke-width", 0.7).attr("stroke-dasharray", "2,2"));
  latTicks.forEach(d => panel.marks.append("line").attr("y1", y(d)).attr("y2", y(d)).attr("x1", 0).attr("x2", panel.width)
    .attr("stroke", "#a0a8ac").attr("stroke-opacity", 0.5).attr("stroke-width", 0.7).attr("stroke-dasharray", "2,2"));

  panel.marks.selectAll("path.track").data(trackRuns).join("path").attr("class", "track")
    .attr("d", line).attr("fill", "none").attr("stroke", RED).attr("stroke-width", 5)
    .attr("stroke-dasharray", d => d.length > 1 ? "0 2.6" : null)
    .attr("stroke-linecap", "round").attr("stroke-linejoin", "round");

  panel.marks.append("circle").attr("cx", x(launch[0])).attr("cy", y(launch[1])).attr("r", 8)
    .attr("fill", "#27ae60").attr("stroke", "#000").attr("stroke-width", 1.4);
  panel.marks.append("path").attr("d", d3.symbol(d3.symbolStar, 124)())
    .attr("transform", `translate(${x(lastFix[0])},${y(lastFix[1])})`)
    .attr("fill", "#1f77b4").attr("stroke", "#000").attr("stroke-width", 1.4);

  svg.append("text").attr("class", "label").attr("x", COL_LEFT + PANEL_W / 2).attr("y", 379).text("Longitude (deg)");
  svg.append("text").attr("class", "label").attr("transform", "translate(35,185) rotate(-90)").text("Latitude (deg)");

  const legend = svg.append("g").attr("class", "legend");
  legend.append("rect").attr("x", 89.5).attr("y", 284).attr("width", 80).attr("height", 49).attr("rx", 2.5)
    .attr("fill", "#fff").attr("fill-opacity", 0.8).attr("stroke", "#ccc").attr("stroke-width", 1);
  legend.append("circle").attr("cx", 104.3).attr("cy", 292.3).attr("r", 1.9).attr("fill", RED);
  legend.append("circle").attr("cx", 104.3).attr("cy", 307.7).attr("r", 8).attr("fill", "#27ae60").attr("stroke", "#000").attr("stroke-width", 1.4);
  legend.append("path").attr("d", d3.symbol(d3.symbolStar, 124)()).attr("transform", "translate(104.3,322.7)")
    .attr("fill", "#1f77b4").attr("stroke", "#000").attr("stroke-width", 1.4);
  [["Track", 292.3], ["Launch", 308.3], ["Last fix", 323.3]].forEach(d =>
    legend.append("text").attr("x", 124).attr("y", d[1]).text(d[0]));
}

// summary text
svg.append("g").selectAll("text").data(summaryLines).join("text")
  .attr("x", d => d.x).attr("y", d => d.y)
  .attr("text-anchor", "middle").attr("dominant-baseline", "central")
  .attr("font-size", d => d.size).attr("fill", d => d.fill)
  .style("white-space", "pre").text(d => d.text);

// wind speed
{
  const x = d3.scaleUtc().domain(timeRange.map(dayToDate));
  const y = d3.scaleLinear().domain([0, 89.8]);
  const panel = makePanel(COL_LEFT, 420.5, PANEL_W, 307, x, y, timeTickDates, windTicks, dateFormat, intFormat, "Wind Speed vs. Time");
  rotateDates(panel);

  const bandRows = windColumns.slice().sort((a, b) => d3.ascending(a[0], b[0]));
  const band = d3.area().x(d => x(dayToDate(d[0])))
    .y0(d => y(d[4] !== undefined ? d[4] : Math.max(0, d[2] - d[3])))
    .y1(d => y(d[1] + d[3]));
  panel.marks.append("path").attr("d", band(bandRows)).attr("fill", "#95a5a6").attr("fill-opacity", 0.42);

  drawColumns(panel, windColumns, x, y, "wind", "#2c3e50", 5.5);

  const mean = d3.line().x(d => x(dayToDate(d[0]))).y(d => y(d[1]));
  panel.marks.append("path").attr("d", mean(windMean)).attr("fill", "none").attr("stroke", RED).attr("stroke-width", 1.9);

  svg.append("text").attr("class", "label").attr("transform", "translate(42,574) rotate(-90)").text("Wind speed (m s⁻¹)");

  const legend = svg.append("g").attr("class", "legend");
  legend.append("rect").attr("x", 621.7).attr("y", 425).attr("width", 161).attr("height", 50).attr("rx", 2.5)
    .attr("fill", "#fff").attr("fill-opacity", 0.8).attr("stroke", "#ccc").attr("stroke-width", 1);
  legend.append("rect").attr("x", 625).attr("y", 430).attr("width", 24).attr("height", 9).attr("fill", "#95a5a6").attr("fill-opacity", 0.42);
  legend.append("circle").attr("cx", 637).attr("cy", 450.3).attr("r", 1.9).attr("fill", "#2c3e50");
  legend.append("line").attr("x1", 625).attr("x2", 649).attr("y1", 465).attr("y2", 465).attr("stroke", RED).attr("stroke-width", 1.9);
  [["±1σ propagated error", 435], ["Wind speed", 450.3], ["Daily mean", 466]].forEach(d =>
    legend.append("text").attr("x", 657.3).attr("y", d[1]).text(d[0]));
}

// latitude
{
  const x = d3.scaleUtc().domain(latTimeRange.map(dayToDate));
  const y = d3.scaleLinear().domain([-90, 90]);
  const panel = makePanel(COL_RIGHT, 420.5, PANEL_W, 307, x, y, timeTickDates, latTicks, dateFormat, intFormat, "Latitude vs. Time");
  rotateDates(panel);
  const line = d3.line().x(d => x(dayToDate(d[0]))).y(d => y(d[1]));
  panel.marks.selectAll("path").data(latRuns).join("path").attr("d", line)
    .attr("fill", "none").attr("stroke", "#000").attr("stroke-width", 4.8)
    .attr("stroke-dasharray", d => d.length > 1 ? "0 2.6" : null)
    .attr("stroke-linecap", "round").attr("stroke-linejoin", "round");
  svg.append("text").attr("class", "label").attr("transform", "translate(814,574) rotate(-90)").text("Latitude (deg)");
}

// altitude
{
  const x = d3.scaleUtc().domain(timeRange.map(dayToDate));
  const y = d3.scaleLinear().domain([9768, 11658]);
  const panel = makePanel(COL_LEFT, 809, PANEL_W, 307, x, y, timeTickDates, altTicks, dateFormat, intFormat, "Balloon Altitude vs. Time");
  rotateDates(panel);
  drawColumns(panel, altColumns, x, y, "alt", "#7f8c8d", 4.8);
  const mean = d3.line().x(d => x(dayToDate(d[0]))).y(d => y(d[1]));
  panel.marks.append("path").attr("d", mean(altMean)).attr("fill", "none").attr("stroke", RED).attr("stroke-width", 1.9);
  svg.append("text").attr("class", "label").attr("x", COL_LEFT + PANEL_W / 2).attr("y", 1178).text("UTC date");
  svg.append("text").attr("class", "label").attr("transform", "translate(20,962) rotate(-90)").text("Altitude (m AMSL)");
}

// histogram
{
  const x = d3.scaleLinear().domain([-100, 100]);
  const y = d3.scaleLinear().domain([0, 339]);
  const panel = makePanel(COL_RIGHT, 809, PANEL_W, 307, x, y, histXTicks, histYTicks, intFormat, intFormat, "U and V Wind Components");
  const barPath = (d, i, counts) =>
    `M${x(d)},${y(0)}V${y(counts[i])}H${x(d + 5)}V${y(0)}Z`;
  panel.marks.selectAll("path.u").data(histBins).join("path").attr("class", "u")
    .attr("d", (d, i) => barPath(d, i, uCounts))
    .attr("fill", "#1f77b4").attr("fill-opacity", 0.65).attr("stroke", "#000").attr("stroke-opacity", 0.65).attr("stroke-width", 1.2);
  panel.marks.selectAll("path.v").data(histBins).join("path").attr("class", "v")
    .attr("d", (d, i) => barPath(d, i, vCounts))
    .attr("fill", "#ff7f0e").attr("fill-opacity", 0.65).attr("stroke", "#000").attr("stroke-opacity", 0.65).attr("stroke-width", 1.2);
  svg.append("text").attr("class", "label").attr("x", COL_RIGHT + PANEL_W / 2).attr("y", 1160).text("Wind speed (m s⁻¹)");
  svg.append("text").attr("class", "label").attr("transform", "translate(818,962) rotate(-90)").text("Frequency");

  const legend = svg.append("g").attr("class", "legend");
  legend.append("rect").attr("x", 1442.5).attr("y", 815.5).attr("width", 118).attr("height", 34.5).attr("rx", 2.5)
    .attr("fill", "#fff").attr("fill-opacity", 0.8).attr("stroke", "#ccc").attr("stroke-width", 1);
  [["U (zonal)", 825, "#1f77b4"], ["V (meridional)", 840, "#ff7f0e"]].forEach(d => {
    legend.append("rect").attr("x", 1447.7).attr("y", d[1] - 4).attr("width", 21).attr("height", 8)
      .attr("fill", d[2]).attr("fill-opacity", 0.65).attr("stroke", "#000").attr("stroke-opacity", 0.65);
    legend.append("text").attr("x", 1477).attr("y", d[1]).text(d[0]);
  });
}
</script>
</body>
</html>
